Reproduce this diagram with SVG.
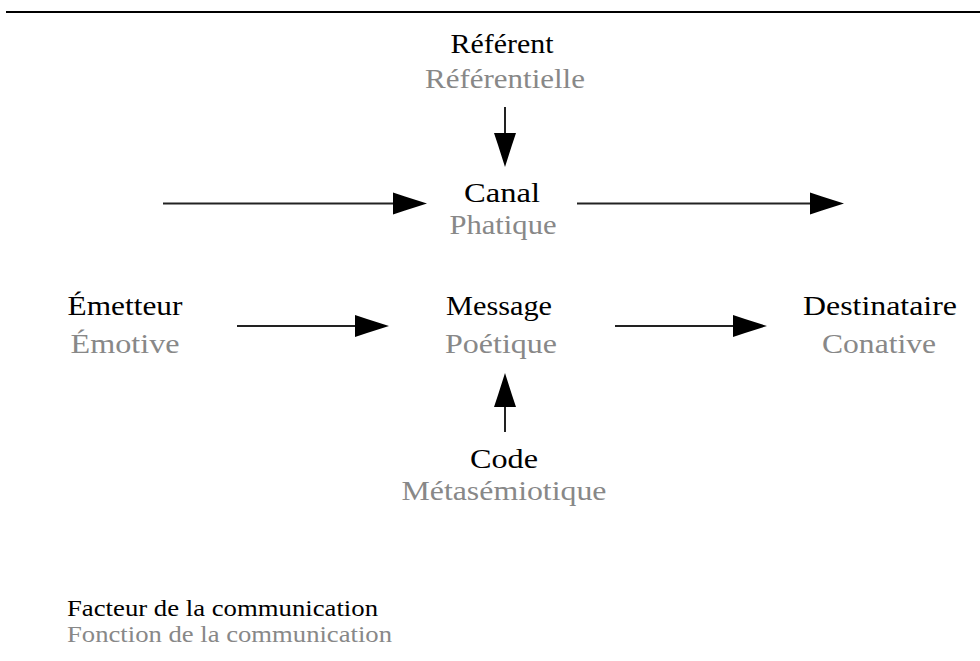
<svg xmlns="http://www.w3.org/2000/svg" width="980" height="661" viewBox="0 0 980 661">
<defs>
<marker id="ah" markerUnits="userSpaceOnUse" viewBox="-1 -12 36 24" markerWidth="36" markerHeight="24" refX="0" refY="0" orient="auto">
<path d="M0,-11 L12,-7 L34,0 L12,7 L0,11 Z" fill="#000"/>
</marker>
</defs>
<style>
text{font-family:"Liberation Serif","Times New Roman",serif;text-anchor:middle}
.f{font-size:28px;fill:#000}
.n{font-size:28px;fill:#888}
.lf{font-size:24px;fill:#000;text-anchor:start}
.ln{font-size:24px;fill:#888;text-anchor:start}
.c{stroke:#222;stroke-width:2;fill:none;marker-end:url(#ah)}
</style>
<rect width="980" height="661" fill="#fff"/>
<line x1="6" y1="12" x2="980" y2="12" stroke="#000" stroke-width="2"/>
<g id="connectors">
<line class="c" x1="163" y1="203.5" x2="393" y2="203.5"/>
<line class="c" x1="577" y1="203.5" x2="810" y2="203.5"/>
<line class="c" x1="505" y1="107" x2="505" y2="133"/>
<line class="c" x1="237" y1="326" x2="355" y2="326"/>
<line class="c" x1="615" y1="326" x2="733" y2="326"/>
<line class="c" x1="505" y1="432" x2="505" y2="407"/>
</g>
<g id="referent">
<text class="f" x="502" y="53" textLength="103" lengthAdjust="spacingAndGlyphs">Référent</text>
<text class="n" x="505" y="88" textLength="160" lengthAdjust="spacingAndGlyphs">Référentielle</text>
</g>
<g id="canal">
<text class="f" x="502" y="202" textLength="76" lengthAdjust="spacingAndGlyphs">Canal</text>
<text class="n" x="503" y="234" textLength="107" lengthAdjust="spacingAndGlyphs">Phatique</text>
</g>
<g id="emetteur">
<text class="f" x="125" y="315" textLength="115" lengthAdjust="spacingAndGlyphs">Émetteur</text>
<text class="n" x="125" y="353" textLength="109" lengthAdjust="spacingAndGlyphs">Émotive</text>
</g>
<g id="message">
<text class="f" x="499" y="315" textLength="106" lengthAdjust="spacingAndGlyphs">Message</text>
<text class="n" x="501" y="353" textLength="112" lengthAdjust="spacingAndGlyphs">Poétique</text>
</g>
<g id="destinataire">
<text class="f" x="880" y="315" textLength="154" lengthAdjust="spacingAndGlyphs">Destinataire</text>
<text class="n" x="879" y="353" textLength="114" lengthAdjust="spacingAndGlyphs">Conative</text>
</g>
<g id="code">
<text class="f" x="504" y="468" textLength="68" lengthAdjust="spacingAndGlyphs">Code</text>
<text class="n" x="504" y="500" textLength="205" lengthAdjust="spacingAndGlyphs">Métasémiotique</text>
</g>
<g id="legend">
<text class="lf" x="67" y="616" textLength="311" lengthAdjust="spacingAndGlyphs">Facteur de la communication</text>
<text class="ln" x="67" y="642" textLength="325" lengthAdjust="spacingAndGlyphs">Fonction de la communication</text>
</g>
</svg>
